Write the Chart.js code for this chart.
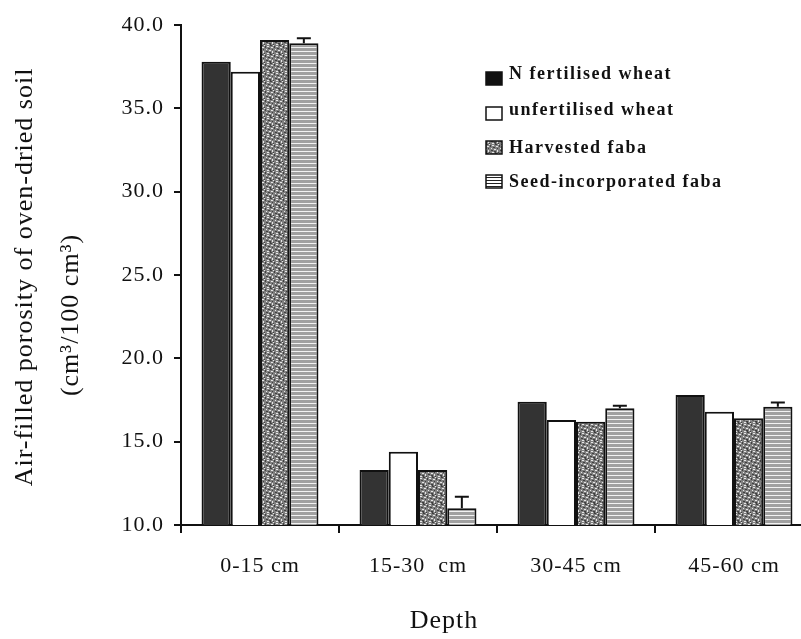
<!DOCTYPE html>
<html>
<head>
<meta charset="utf-8">
<script src="https://cdn.jsdelivr.net/npm/chart.js@4.4.1/dist/chart.umd.min.js"></script>
<style>
  html, body { margin: 0; padding: 0; background: #fff; overflow: hidden; }
  #wrap { width: 801px; height: 639px; overflow: hidden; position: relative; }
  canvas { display: block; }
</style>
</head>
<body>
<div id="wrap"><canvas id="c" width="830" height="639" style="width:830px;height:639px"></canvas></div>
<script>
// Depth classes along the x axis
const depths = ['0-15 cm', '15-30  cm', '30-45 cm', '45-60 cm'];

// Air-filled porosity (cm3/100 cm3) per treatment
const nFertilisedWheat   = [37.8, 13.3, 17.4, 17.8];
const unfertilisedWheat  = [37.2, 14.4, 16.3, 16.8];
const harvestedFaba      = [39.1, 13.3, 16.2, 16.4];
const seedIncorpFaba     = [38.9, 11.0, 17.0, 17.1];

// Upper error (standard error) for seed-incorporated faba
const seedIncorpFabaErr  = [0.3, 0.7, 0.15, 0.25];

// Y axis range and step
const yMin = 10, yMax = 40, yStep = 5;

const SERIF = "'Liberation Serif', 'Times New Roman', serif";

// Speckled fill for harvested faba
function speckle() {
  const c = document.createElement('canvas');
  c.width = 9; c.height = 9;
  const g = c.getContext('2d');
  g.fillStyle = '#808080'; g.fillRect(0, 0, 9, 9);
  g.fillStyle = '#404040';
  [[0,0,2,1],[4,1,1,2],[7,3,2,1],[2,4,1,1],[5,6,2,1],[0,7,1,2],[3,8,1,1],[8,7,1,1]]
    .forEach(p => g.fillRect(p[0], p[1], p[2], p[3]));
  g.fillStyle = '#e6e6e6';
  [[3,0,1,1],[6,1,2,1],[1,2,2,1],[5,4,1,1],[8,5,1,1],[2,6,1,2],[6,8,2,1],[0,5,1,1]]
    .forEach(p => g.fillRect(p[0], p[1], p[2], p[3]));
  return g.createPattern(c, 'repeat');
}

// Horizontal stripes for seed-incorporated faba
function stripes() {
  const c = document.createElement('canvas');
  c.width = 4; c.height = 4;
  const g = c.getContext('2d');
  g.fillStyle = '#a0a0a0'; g.fillRect(0, 0, 4, 4);
  g.fillStyle = '#f2f2f2'; g.fillRect(0, 3, 4, 1);
  return g.createPattern(c, 'repeat');
}

// Legend box stripes (dark lines on white)
function legendStripes() {
  const c = document.createElement('canvas');
  c.width = 4; c.height = 3;
  const g = c.getContext('2d');
  g.fillStyle = '#ffffff'; g.fillRect(0, 0, 4, 3);
  g.fillStyle = '#222'; g.fillRect(0, 0, 4, 1);
  return g.createPattern(c, 'repeat');
}

const fills = ['#333333', '#ffffff', speckle(), stripes()];
const legendFills = ['#111111', '#ffffff', speckle(), legendStripes()];
const names = ['N fertilised wheat', 'unfertilised wheat', 'Harvested faba', 'Seed-incorporated faba'];
const series = [nFertilisedWheat, unfertilisedWheat, harvestedFaba, seedIncorpFaba];

const textSpacing = {
  id: 'textSpacing',
  beforeDraw(chart) { chart.ctx.letterSpacing = '1px'; }
};

const errorBars = {
  id: 'errorBars',
  afterDatasetsDraw(chart) {
    const ctx = chart.ctx, y = chart.scales.y;
    const meta = chart.getDatasetMeta(3);
    ctx.save();
    ctx.strokeStyle = '#111';
    ctx.lineWidth = 2;
    meta.data.forEach((bar, i) => {
      const top = y.getPixelForValue(seedIncorpFaba[i] + seedIncorpFabaErr[i]);
      ctx.beginPath();
      ctx.moveTo(bar.x, bar.y);
      ctx.lineTo(bar.x, top);
      ctx.moveTo(bar.x - 7, top);
      ctx.lineTo(bar.x + 7, top);
      ctx.stroke();
    });
    ctx.restore();
  }
};

const labelsAndLegend = {
  id: 'labelsAndLegend',
  afterDraw(chart) {
    const ctx = chart.ctx;
    ctx.save();
    ctx.fillStyle = '#111';
    ctx.letterSpacing = '1px';
    ctx.font = '26px ' + SERIF;
    ctx.textAlign = 'center';
    ctx.textBaseline = 'alphabetic';
    // y axis title, two lines
    [['Air-filled porosity of oven-dried soil', 32, 277],
     ['(cm\u00B3/100 cm\u00B3)', 78, 315]].forEach(t => {
      ctx.save();
      ctx.translate(t[1], t[2]);
      ctx.rotate(-Math.PI / 2);
      ctx.fillText(t[0], 0, 0);
      ctx.restore();
    });
    // x axis title
    ctx.fillText('Depth', 444, 628);

    // legend
    const boxes = [72, 107, 141, 175];
    const bases = [79, 115, 153, 187];
    ctx.font = 'bold 18px ' + SERIF;
    ctx.letterSpacing = '1.5px';
    ctx.textAlign = 'left';
    names.forEach((n, i) => {
      ctx.fillStyle = legendFills[i];
      ctx.fillRect(486, boxes[i], 16, 13);
      ctx.strokeStyle = '#111';
      ctx.lineWidth = 1.5;
      ctx.strokeRect(486, boxes[i], 16, 13);
      ctx.fillStyle = '#111';
      ctx.fillText(n, 509, bases[i]);
    });
    ctx.restore();
  }
};

new Chart(document.getElementById('c'), {
  type: 'bar',
  data: {
    labels: depths,
    datasets: series.map((d, i) => ({
      label: names[i],
      data: d,
      backgroundColor: fills[i],
      borderColor: '#111',
      borderWidth: 2,
      categoryPercentage: 0.74,
      barPercentage: 1.0
    }))
  },
  options: {
    responsive: false,
    animation: false,
    devicePixelRatio: 1,
    layout: { padding: { top: 25, right: 17, left: 0, bottom: 0 } },
    plugins: { legend: { display: false }, tooltip: { enabled: false } },
    scales: {
      x: {
        afterFit(s) { s.height = 114; },
        border: { display: true, color: '#111', width: 2 },
        grid: { display: true, offset: true, drawOnChartArea: false, drawTicks: true, tickLength: 8, color: '#111', lineWidth: 2 },
        ticks: { color: '#111', font: { family: SERIF, size: 22 }, padding: 20 }
      },
      y: {
        min: yMin, max: yMax,
        afterFit(s) { s.width = 181; },
        border: { display: true, color: '#111', width: 2 },
        grid: { display: true, drawOnChartArea: false, drawTicks: true, tickLength: 7, color: '#111', lineWidth: 2 },
        ticks: {
          stepSize: yStep, color: '#111', padding: 10,
          font: { family: SERIF, size: 22 },
          callback: v => v.toFixed(1)
        }
      }
    }
  },
  plugins: [textSpacing, errorBars, labelsAndLegend]
});
</script>
</body>
</html>
